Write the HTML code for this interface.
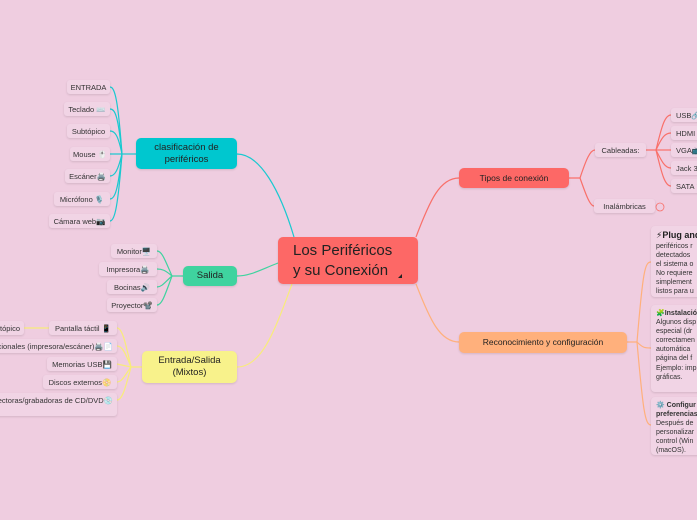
<!DOCTYPE html>
<html><head><meta charset="utf-8"><style>
body{margin:0;width:697px;height:520px;overflow:hidden;background:#efcde0;position:relative;font-family:"Liberation Sans","DejaVu Sans",sans-serif;}
.n{position:absolute;background:#f1d4e5;border-radius:3px;box-shadow:0 1px 2px rgba(0,0,0,.12);font-size:7.5px;color:#333;display:flex;align-items:center;justify-content:center;white-space:nowrap;overflow:hidden;}
.m{position:absolute;border-radius:5px;box-shadow:0 1px 2px rgba(0,0,0,.12);display:flex;align-items:center;justify-content:center;text-align:center;color:#222;font-size:9.5px;line-height:1.25;}
.t{position:absolute;background:#f1d4e5;border-radius:4px;box-shadow:0 1px 2px rgba(0,0,0,.12);font-size:7px;color:#333;line-height:1.3;padding:4px 5px;box-sizing:border-box;overflow:hidden;white-space:nowrap;}
svg{position:absolute;left:0;top:0}
</style></head><body>
<svg width="697" height="520" fill="none" stroke-width="1.2">
<g stroke="#19c9d0">
<path d="M294 237 C280 190 260 154 237 154"/>
<path d="M136 154 L122 154"/>
<path d="M122 154 C118 100 115 87 110 87"/>
<path d="M122 154 C118 115 115 109 110 109"/>
<path d="M122 154 C118 135 115 131 110 131"/>
<path d="M122 154 L110 154"/>
<path d="M122 154 C118 170 115 176 110 176"/>
<path d="M122 154 C118 190 115 199 110 199"/>
<path d="M122 154 C118 205 115 221 110 221"/>
</g>
<g stroke="#3fd39f">
<path d="M278 263 C260 270 250 276 237 276"/>
<path d="M183 276 L172 276 C165 260 162 251 157 251"/>
<path d="M172 276 C165 270 162 269 157 269"/>
<path d="M172 276 C165 282 162 287 157 287"/>
<path d="M172 276 C165 295 162 305 157 305"/>
</g>
<g stroke="#f8ec7a">
<path d="M292 284 C275 330 262 367 237 367"/>
<path d="M142 367 L131 367 C125 340 122 328 117 328"/>
<path d="M131 367 C125 352 122 346 117 346"/>
<path d="M131 367 L117 364"/>
<path d="M131 367 C125 375 122 382 117 382"/>
<path d="M131 367 C125 390 122 400 117 400"/>
<path d="M49 328 L24 328"/>
</g>
<g stroke="#f9706a">
<path d="M416 237 C430 200 440 178 459 178"/>
<path d="M569 178 L580 178 C586 160 590 150 595 150"/>
<path d="M580 178 C586 195 590 206 594 206"/>
<path d="M646 150 L656 150 C662 125 665 115 671 115"/>
<path d="M656 150 C662 137 665 133 671 133"/>
<path d="M656 150 L671 150"/>
<path d="M656 150 C662 162 665 168 671 168"/>
<path d="M656 150 C662 175 665 186 671 186"/>
</g>
<g stroke="#ffb07c">
<path d="M416 284 C430 320 440 342 459 342"/>
<path d="M627 342 L637 342 C643 270 645 262 651 262"/>
<path d="M637 342 C643 348 645 348 651 348"/>
<path d="M637 342 C643 410 645 425 651 425"/>
</g>
<circle cx="660" cy="207" r="4" stroke="#f9706a" stroke-width="0.8"/>
</svg>
<div class="m" style="left:278px;top:237px;width:140px;height:47px;background:#fd6866;font-size:15px;line-height:1.3;justify-content:flex-start;padding-left:15px;box-sizing:border-box;text-align:left">Los Periféricos<br>y su Conexión</div>
<div style="position:absolute;left:398px;top:274px;width:0;height:0;border-left:4px solid transparent;border-bottom:4px solid #222"></div>
<div class="m" style="left:136px;top:138px;width:101px;height:31px;background:#00c7cf">clasificación de<br>periféricos</div>
<div class="m" style="left:183px;top:266px;width:54px;height:20px;background:#3fd39f">Salida</div>
<div class="m" style="left:142px;top:351px;width:95px;height:32px;background:#f8f28b">Entrada/Salida<br>(Mixtos)</div>
<div class="m" style="left:459px;top:168px;width:110px;height:20px;background:#fd6866;font-size:8.5px">Tipos de conexión</div>
<div class="m" style="left:459px;top:332px;width:168px;height:21px;background:#ffb07c;font-size:8.5px">Reconocimiento y configuración</div>

<div class="n" style="left:67px;top:80px;width:43px;height:14px">ENTRADA</div>
<div class="n" style="left:64px;top:102px;width:46px;height:14px">Teclado ⌨️</div>
<div class="n" style="left:67px;top:124px;width:43px;height:14px">Subtópico</div>
<div class="n" style="left:70px;top:147px;width:40px;height:14px">Mouse 🖱️</div>
<div class="n" style="left:65px;top:169px;width:45px;height:14px">Escáner🖨️</div>
<div class="n" style="left:54px;top:192px;width:56px;height:14px">Micrófono 🎙️</div>
<div class="n" style="left:49px;top:214px;width:61px;height:14px">Cámara web📷</div>

<div class="n" style="left:111px;top:244px;width:46px;height:14px">Monitor🖥️</div>
<div class="n" style="left:99px;top:262px;width:58px;height:14px">Impresora🖨️</div>
<div class="n" style="left:107px;top:280px;width:50px;height:14px">Bocinas🔊</div>
<div class="n" style="left:107px;top:298px;width:50px;height:14px">Proyector📽️</div>

<div class="n" style="left:-20px;top:321px;width:44px;height:14px;justify-content:flex-end;padding-right:4px;box-sizing:border-box">Subtópico</div>
<div class="n" style="left:49px;top:321px;width:68px;height:14px">Pantalla táctil 📱</div>
<div class="n" style="left:-40px;top:339px;width:157px;height:14px;justify-content:flex-end;padding-right:4px;box-sizing:border-box">Multifuncionales (impresora/escáner)🖨️📄</div>
<div class="n" style="left:47px;top:357px;width:70px;height:14px">Memorias USB💾</div>
<div class="n" style="left:43px;top:375px;width:74px;height:14px">Discos externos📀</div>
<div class="n" style="left:-40px;top:393px;width:157px;height:23px;align-items:flex-start;padding-top:3px;justify-content:flex-end;padding-right:4px;box-sizing:border-box">Lectoras/grabadoras de CD/DVD💿</div>

<div class="n" style="left:595px;top:143px;width:51px;height:14px">Cableadas:</div>
<div class="n" style="left:594px;top:199px;width:61px;height:14px">Inalámbricas</div>
<div class="n" style="left:671px;top:108px;width:40px;height:14px;justify-content:flex-start;padding-left:5px;box-sizing:border-box">USB🔗</div>
<div class="n" style="left:671px;top:126px;width:40px;height:14px;justify-content:flex-start;padding-left:5px;box-sizing:border-box">HDMI</div>
<div class="n" style="left:671px;top:143px;width:40px;height:14px;justify-content:flex-start;padding-left:5px;box-sizing:border-box">VGA📺</div>
<div class="n" style="left:671px;top:161px;width:40px;height:14px;justify-content:flex-start;padding-left:5px;box-sizing:border-box">Jack 3.5</div>
<div class="n" style="left:671px;top:179px;width:40px;height:14px;justify-content:flex-start;padding-left:5px;box-sizing:border-box">SATA 🔌</div>

<div class="t" style="left:651px;top:226px;width:60px;height:71px"><b style="font-size:9px;color:#222">⚡Plug and Play</b><br>periféricos r<br>detectados<br>el sistema o<br>No requiere<br>simplement<br>listos para u</div>
<div class="t" style="left:651px;top:305px;width:60px;height:87px"><b>🧩Instalación</b><br>Algunos disp<br>especial (dr<br>correctamen<br>automática<br>página del f<br>Ejemplo: imp<br>gráficas.</div>
<div class="t" style="left:651px;top:397px;width:60px;height:58px"><b>⚙️ Configur</b><br><b>preferencias</b><br>Después de<br>personalizar<br>control (Win<br>(macOS).</div>
</body></html>
